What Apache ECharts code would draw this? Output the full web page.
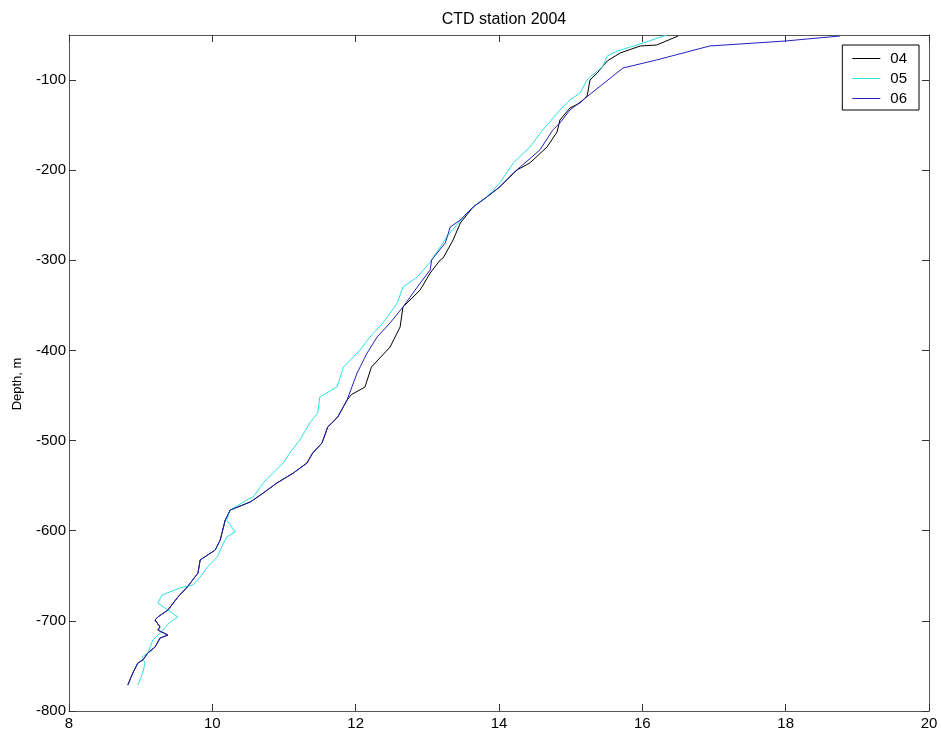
<!DOCTYPE html>
<html>
<head>
<meta charset="utf-8">
<script src="https://cdn.jsdelivr.net/npm/echarts@6/dist/echarts.min.js"></script>
<style>
html,body{margin:0;padding:0;background:#fff;}
#c{width:941px;height:740px;}
</style>
</head>
<body>
<div id="c"></div>
<script>
// Series names
const seriesNames = ['04', '05', '06'];

// Temperature (x) and depth (y) for each station profile
const temp04 = [16.50,16.20,15.97,15.69,15.51,15.37,15.27,15.23,15.13,14.99,14.85,14.81,14.67,14.43,14.25,14.01,13.83,13.64,13.46,13.36,13.22,13.18,13.04,12.90,12.66,12.62,12.48,12.22,12.13,11.94,11.88,11.75,11.61,11.53,11.40,11.32,11.13,10.90,10.71,10.53,10.25,10.18,10.11,10.04,9.83,9.80,9.65,9.52,9.38,9.24,9.20,9.27,9.24,9.38,9.27,9.20,9.10,9.03,8.96,8.89,8.82];
const depth04 = [-51.1,-61.1,-62.2,-70.0,-78.8,-92.2,-99.9,-117.7,-125.4,-131.0,-144.3,-157.6,-174.3,-192.0,-199.8,-218.6,-229.7,-240.8,-258.6,-277.4,-297.4,-299.6,-314.1,-332.9,-351.8,-374.0,-396.2,-418.4,-440.5,-449.0,-455.0,-473.8,-485.0,-502.7,-513.8,-524.9,-536.0,-547.1,-558.2,-568.1,-577.0,-588.1,-610.3,-621.4,-632.5,-646.9,-662.5,-673.5,-688.0,-695.7,-699.1,-706.8,-710.2,-715.7,-719.1,-729.1,-735.7,-743.4,-746.8,-757.9,-771.2];

const temp05 = [16.34,16.01,15.65,15.51,15.45,15.23,15.13,14.99,14.85,14.61,14.43,14.20,14.01,13.83,13.64,13.55,13.27,13.18,13.04,12.86,12.66,12.58,12.38,12.20,12.06,11.83,11.74,11.50,11.47,11.36,11.22,11.08,10.99,10.85,10.71,10.57,10.48,10.25,10.20,10.32,10.20,10.13,10.07,9.93,9.83,9.73,9.55,9.30,9.24,9.38,9.52,9.41,9.31,9.17,9.10,9.02,9.06,9.03,8.96];
const depth05 = [-50.0,-58.9,-67.8,-73.3,-84.4,-99.9,-114.4,-122.1,-133.2,-155.4,-174.3,-192.0,-214.2,-229.7,-240.8,-247.5,-274.1,-285.2,-301.9,-318.5,-329.6,-347.4,-369.5,-385.1,-399.5,-418.4,-440.5,-451.6,-469.4,-480.5,-499.4,-513.8,-524.9,-536.0,-547.1,-562.6,-565.9,-577.0,-588.1,-601.4,-607.0,-618.1,-629.2,-640.3,-651.4,-660.2,-663.5,-671.3,-680.2,-688.0,-695.7,-701.3,-710.2,-721.3,-735.7,-740.1,-746.8,-757.9,-771.2];

const temp06 = [18.76,17.99,16.94,16.20,15.73,15.59,15.17,14.99,14.85,14.75,14.57,14.20,14.01,13.83,13.64,13.46,13.32,13.25,13.06,13.04,12.90,12.66,12.48,12.30,12.16,12.02,11.88,11.75,11.61,11.53,11.40,11.32,11.13,10.90,10.71,10.53,10.25,10.18,10.11,10.04,9.83,9.80,9.65,9.52,9.38,9.24,9.20,9.27,9.24,9.38,9.27,9.20,9.10,9.03,8.96,8.89,8.82];
const depth06 = [-51.1,-56.7,-62.2,-77.7,-86.6,-95.5,-122.1,-133.2,-147.6,-155.4,-177.6,-203.1,-218.6,-229.7,-240.8,-255.3,-263.0,-280.8,-299.6,-310.7,-325.2,-351.8,-369.5,-385.0,-402.8,-425.0,-455.0,-473.8,-485.0,-502.7,-513.8,-524.9,-536.0,-547.1,-558.2,-568.1,-577.0,-588.1,-610.3,-621.4,-632.5,-646.9,-662.5,-673.5,-688.0,-695.7,-699.1,-706.8,-710.2,-715.7,-719.1,-729.1,-735.7,-743.4,-746.8,-757.9,-771.2];

// Axis settings
const xMin = 8, xMax = 20, xStep = 2;
const yMin = -800, yMax = -50, yStep = 100;
const yTitle = 'Depth, m';
const chartTitle = 'CTD station 2004';

const colors = ['#000000', '#2ee0e0', '#2222c0'];

function pairs(xs, ys) { return xs.map((v, i) => [v, ys[i]]); }
const seriesData = [pairs(temp04, depth04), pairs(temp05, depth05), pairs(temp06, depth06)];

const chart = echarts.init(document.getElementById('c'), null, {renderer: 'canvas'});
const font = 'Liberation Sans, Arial, sans-serif';
const frame = {show: true, lineStyle: {color: '#555', width: 1}};
const tick = {show: true, inside: true, length: 7, lineStyle: {color: '#333'}};

chart.setOption({
  animation: false,
  backgroundColor: '#fff',
  title: {
    text: chartTitle,
    left: 499, top: 7, textAlign: 'center',
    textStyle: {fontFamily: font, fontSize: 16, fontWeight: 'normal', color: '#000'}
  },
  graphic: [{
    type: 'text', x: 17, y: 384, rotation: Math.PI / 2,
    style: {text: yTitle, fontFamily: font, fontSize: 13, fill: '#000',
            align: 'center', verticalAlign: 'middle'}
  }],
  legend: {
    data: seriesNames,
    orient: 'vertical',
    right: 22, top: 45,
    backgroundColor: '#fff',
    borderColor: '#000', borderWidth: 1,
    padding: [6, 12, 4, 10],
    itemGap: 5,
    itemWidth: 28, itemHeight: 14,
    icon: 'path://M0,7 L28,7 L28,8 L0,8 Z',
    textStyle: {fontFamily: font, fontSize: 15, color: '#000', padding: [0, 0, 0, 5]}
  },
  grid: {left: 69, right: 12, top: 35, bottom: 29, containLabel: false},
  xAxis: [
    {type: 'value', min: xMin, max: xMax, interval: xStep, position: 'bottom',
     axisLine: frame, axisTick: tick, splitLine: {show: false},
     axisLabel: {fontFamily: font, fontSize: 15, color: '#000', margin: 5}},
    {type: 'value', min: xMin, max: xMax, interval: xStep, position: 'top',
     axisLine: frame, axisTick: tick, splitLine: {show: false}, axisLabel: {show: false}}
  ],
  yAxis: [
    {type: 'value', min: yMin, max: yMax, interval: yStep, position: 'left',
     axisLine: frame, axisTick: tick, splitLine: {show: false},
     axisLabel: {fontFamily: font, fontSize: 15, color: '#000', margin: 3,
       showMaxLabel: false,
       formatter: v => (v % 100 === 0 ? String(v) : '')}},
    {type: 'value', min: yMin, max: yMax, interval: yStep, position: 'right',
     axisLine: frame, axisTick: tick, splitLine: {show: false}, axisLabel: {show: false}}
  ],
  series: seriesNames.map((n, i) => ({
    name: n, type: 'line', data: seriesData[i],
    xAxisIndex: 0, yAxisIndex: 0,
    showSymbol: false, symbol: 'none',
    color: colors[i],
    lineStyle: {color: colors[i], width: 1},
    z: 2 + i
  }))
});
</script>
</body>
</html>
